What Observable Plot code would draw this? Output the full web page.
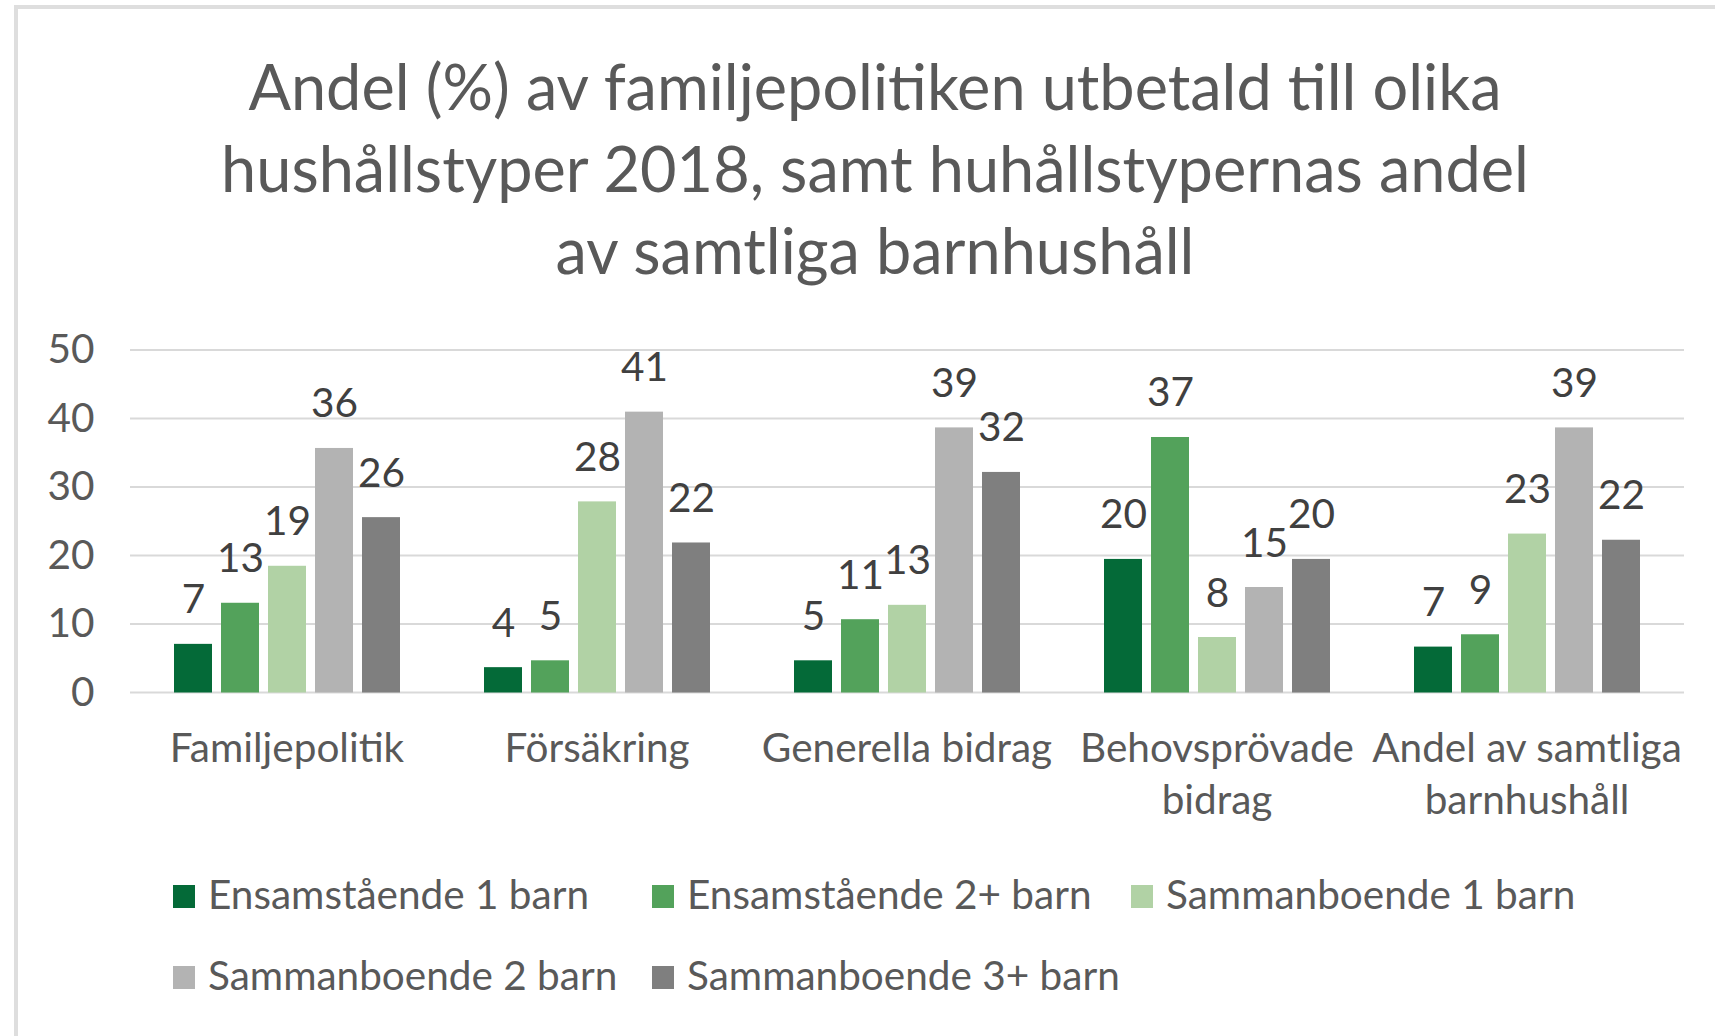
<!DOCTYPE html>
<html><head><meta charset="utf-8">
<script src="https://cdn.jsdelivr.net/npm/d3@7"></script>
<script src="https://cdn.jsdelivr.net/npm/@observablehq/plot@0.6"></script>
<style>
html,body{margin:0;padding:0;overflow:hidden;background:#fff;width:1715px;height:1036px;}
body{font-family:Lato,"Open Sans",sans-serif;position:relative;}
#frame{position:absolute;left:14px;top:5px;width:1701px;height:1031px;box-sizing:border-box;border-left:4px solid #dedede;border-top:4px solid #dedede;}
#title{position:absolute;left:35px;width:1680px;top:45px;text-align:center;font-size:63px;line-height:82px;color:#595959;white-space:nowrap;}
#chart{position:absolute;left:0;top:300px;}
#legend{position:absolute;left:173px;top:853px;display:grid;grid-template-columns:479px 479px 479px;}
.item{display:flex;align-items:center;height:81px;font-size:40.5px;line-height:81px;color:#595959;white-space:nowrap;}
.sw{width:22px;height:23px;margin-right:13px;margin-top:5px;flex:none;}
</style></head>
<body>
<div id="frame"></div>
<div id="title">Andel (%) av familjepolitiken utbetald till olika<br>hushållstyper 2018, samt huhållstypernas andel<br>av samtliga barnhushåll</div>
<div id="chart"></div>
<div id="legend"></div>
<script>
const categories = ["Familjepolitik", "Försäkring", "Generella bidrag", "Behovsprövade\nbidrag", "Andel av samtliga\nbarnhushåll"];
const series = ["Ensamstående 1 barn", "Ensamstående 2+ barn", "Sammanboende 1 barn", "Sammanboende 2 barn", "Sammanboende 3+ barn"];
const colors = ["#046a38", "#53a25b", "#b1d2a5", "#b3b3b3", "#7f7f7f"];
const ensamstaende1 = [7.1, 3.7, 4.7, 19.5, 6.7];
const ensamstaende2 = [13.1, 4.7, 10.7, 37.3, 8.5];
const sammanboende1 = [18.5, 27.9, 12.8, 8.1, 23.2];
const sammanboende2 = [35.7, 41.0, 38.7, 15.4, 38.7];
const sammanboende3 = [25.6, 21.9, 32.2, 19.5, 22.3];
const yTicks = [0, 10, 20, 30, 40, 50];

const seriesValues = [ensamstaende1, ensamstaende2, sammanboende1, sammanboende2, sammanboende3];
const data = categories.flatMap((c, i) => series.map((s, j) => ({category: c, series: s, value: seriesValues[j][i]})));

const chart = Plot.plot({
  width: 1715, height: 540,
  marginTop: 50, marginBottom: 147.5, marginLeft: 130, marginRight: 31,
  style: {fontFamily: "Lato, 'Open Sans', sans-serif", fontSize: "40.5px", color: "#595959", background: "transparent", overflow: "visible"},
  fx: {domain: categories, paddingInner: 0.267, paddingOuter: 0.1335, label: null},
  x: {domain: series, paddingInner: 0.2, paddingOuter: 0, axis: null},
  y: {domain: [0, 50], label: null},
  color: {domain: series, range: colors},
  marks: [
    Plot.axisY({ticks: yTicks, tickSize: 0, tickPadding: 79, label: null}),
    Plot.axisFx({anchor: "bottom", tickSize: 0, tickPadding: 32, label: null, lineHeight: 1.28}),
    Plot.barY(data, {fx: "category", x: "series", y: "value", fill: "series"}),
    Plot.text(data, {fx: "category", x: "series", y: "value", text: d => String(Math.round(d.value)), lineAnchor: "bottom", dy: -31, fill: "#404040"})
  ]
});

// full-width gridlines through the plot's y scale
const yScale = chart.scale("y");
const x0 = 130, x1 = 1715 - 31;
const svg = d3.select(chart);
const grid = svg.insert("g", "g").attr("class", "grid");
grid.selectAll("line").data(yTicks).join("line")
  .attr("x1", x0).attr("x2", x1)
  .attr("y1", d => yScale.apply(d)).attr("y2", d => yScale.apply(d))
  .attr("stroke", "#d9d9d9").attr("stroke-width", 2);

document.getElementById("chart").appendChild(chart);

const legend = d3.select("#legend");
const items = legend.selectAll(".item").data(series).join("div").attr("class", "item");
items.append("div").attr("class", "sw").style("background", (d, i) => colors[i]);
items.append("span").text(d => d);
</script>
</body></html>
